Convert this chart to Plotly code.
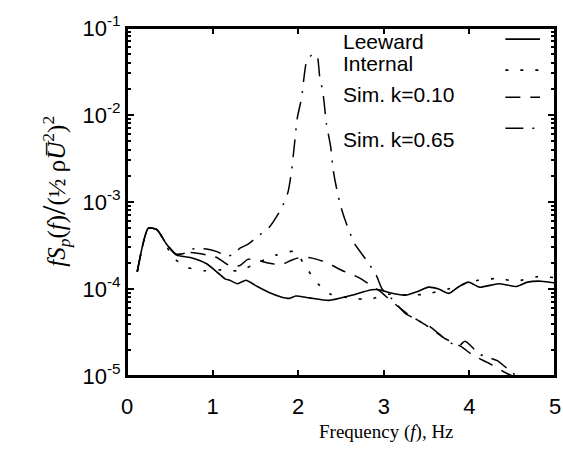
import plotly.graph_objects as go

# ---------------- data ----------------
leeward_f = [0.12, 0.25, 0.35, 0.46, 0.58, 0.74, 0.93, 1.08, 1.15, 1.20, 1.29, 1.39, 1.50,
             1.66, 1.80, 1.90, 1.97, 2.13, 2.36, 2.59, 2.86, 2.95, 3.06, 3.25, 3.41, 3.52,
             3.64, 3.76, 3.88, 3.99, 4.12, 4.34, 4.55, 4.68, 4.84, 5.00]
leeward_s = [1.58e-4, 5.0e-4, 4.8e-4, 3.3e-4, 2.45e-4, 2.3e-4, 1.95e-4, 1.48e-4, 1.30e-4,
             1.26e-4, 1.15e-4, 1.26e-4, 1.10e-4, 9.1e-5, 8.1e-5, 7.8e-5, 8.3e-5, 7.9e-5,
             7.4e-5, 8.3e-5, 9.8e-5, 9.8e-5, 9.1e-5, 8.5e-5, 9.5e-5, 1.05e-4, 1.0e-4,
             8.9e-5, 1.07e-4, 1.2e-4, 1.05e-4, 1.15e-4, 1.07e-4, 1.2e-4, 1.23e-4, 1.17e-4]

internal_f = [0.12, 0.25, 0.35, 0.46, 0.52, 0.70, 0.90, 1.10, 1.31, 1.50, 1.74, 1.96, 2.09,
              2.23, 2.38, 2.60, 2.83, 3.05, 3.27, 3.48, 3.75, 4.10, 4.34, 4.55, 4.78, 5.00]
internal_s = [1.58e-4, 5.0e-4, 4.8e-4, 3.2e-4, 2.4e-4, 1.78e-4, 1.62e-4, 1.66e-4, 1.62e-4,
              1.95e-4, 2.45e-4, 2.7e-4, 1.78e-4, 1.15e-4, 8.7e-5, 7.9e-5, 7.6e-5, 8.7e-5,
              8.5e-5, 8.7e-5, 1.0e-4, 1.26e-4, 1.32e-4, 1.23e-4, 1.38e-4, 1.35e-4]

sim010_f = [0.12, 0.25, 0.35, 0.46, 0.58, 0.72, 0.95, 1.05, 1.13, 1.22, 1.32, 1.41, 1.50,
            1.60, 1.70, 1.80, 1.92, 2.02, 2.12, 2.22, 2.31, 2.40, 2.52, 2.62, 2.71, 2.85,
            2.95, 3.10, 3.30, 3.50, 3.70, 3.90, 4.04, 4.24, 4.40, 4.50]
sim010_s = [1.58e-4, 5.0e-4, 4.8e-4, 3.3e-4, 2.5e-4, 2.63e-4, 2.45e-4, 2.3e-4, 2.04e-4,
            1.82e-4, 1.86e-4, 2.19e-4, 2.19e-4, 2.04e-4, 1.95e-4, 1.9e-4, 2.14e-4, 2.3e-4,
            2.3e-4, 2.19e-4, 2.04e-4, 1.86e-4, 1.62e-4, 1.48e-4, 1.35e-4, 1.1e-4, 9.5e-5,
            7.1e-5, 5.0e-5, 3.8e-5, 2.75e-5, 2.19e-5, 1.74e-5, 1.38e-5, 1.12e-5, 1.0e-5]

sim065_f = [0.12, 0.25, 0.35, 0.46, 0.58, 0.70, 0.76, 0.93, 1.05, 1.16, 1.25, 1.32, 1.42,
            1.51, 1.66, 1.80, 1.88, 1.92, 1.955, 1.99, 2.04, 2.07, 2.10, 2.17, 2.22, 2.25,
            2.29, 2.33, 2.38, 2.41, 2.45, 2.50, 2.57, 2.66, 2.79, 2.91, 2.98, 3.10, 3.25,
            3.40, 3.55, 3.75, 3.87, 3.95, 4.12, 4.32, 4.45, 4.55]
sim065_s = [1.58e-4, 5.0e-4, 4.8e-4, 3.3e-4, 2.5e-4, 2.63e-4, 2.88e-4, 2.88e-4, 2.69e-4,
            2.4e-4, 2.5e-4, 2.95e-4, 3.3e-4, 3.9e-4, 5.1e-4, 8.3e-4, 1.29e-3, 2.19e-3,
            4.47e-3, 9.3e-3, 1.58e-2, 2.82e-2, 4.17e-2, 5.0e-2, 4.8e-2, 2.82e-2, 1.78e-2,
            7.9e-3, 4.27e-3, 2.29e-3, 1.41e-3, 8.7e-4, 5.4e-4, 3.3e-4, 2.19e-4, 1.45e-4,
            1.0e-4, 7.6e-5, 5.25e-5, 4.37e-5, 3.63e-5, 2.51e-5, 2.19e-5, 2.51e-5, 1.78e-5,
            1.51e-5, 1.2e-5, 1.0e-5]

series_names = ["Leeward", "Internal", "Sim. k=0.10", "Sim. k=0.65"]
x_ticks = [0, 1, 2, 3, 4, 5]
y_ticks = [1e-5, 1e-4, 1e-3, 1e-2, 1e-1]
y_ticktext = ["10<sup>-5</sup>", "10<sup>-4</sup>", "10<sup>-3</sup>",
              "10<sup>-2</sup>", "10<sup>-1</sup>"]

# ---------------- figure ----------------
dashes = ["solid", "3px,12px", "15px,10px", "18px,9px,2px,9px"]
widths = [1.6, 1.6, 1.5, 1.5]
xs = [leeward_f, internal_f, sim010_f, sim065_f]
ys = [leeward_s, internal_s, sim010_s, sim065_s]

fig = go.Figure()
for name, x, y, d, w in zip(series_names, xs, ys, dashes, widths):
    fig.add_trace(go.Scatter(x=x, y=y, mode="lines", name=name,
                             line=dict(color="black", width=w, dash=d, shape="spline",
                                       smoothing=0.6),
                             showlegend=False, hoverinfo="skip"))

minor_vals = [m * 10.0 ** e for e in range(-5, -1) for m in range(2, 10)]

fig.update_layout(
    width=563, height=453,
    margin=dict(l=127, r=8, t=28, b=77, autoexpand=False),
    paper_bgcolor="white", plot_bgcolor="white",
    font=dict(family="Liberation Sans, Arial, sans-serif", color="black"),
    xaxis=dict(range=[0, 5], tickvals=x_ticks, ticktext=[str(v) for v in x_ticks],
               ticks="inside", ticklen=6, tickwidth=1.5, tickcolor="black",
               showline=True, linecolor="black", linewidth=2, mirror="ticks",
               showgrid=False, zeroline=False, tickfont=dict(size=22),
               ticklabelstandoff=10, automargin=False),
    yaxis=dict(type="log", range=[-5, -1], tickvals=y_ticks, ticktext=y_ticktext,
               ticks="inside", ticklen=7, tickwidth=1.5, tickcolor="black",
               showline=True, linecolor="black", linewidth=2, mirror="ticks",
               showgrid=False, zeroline=False, tickfont=dict(size=22),
               automargin=False,
               minor=dict(tickvals=minor_vals, ticks="inside", ticklen=4,
                          tickcolor="black", showgrid=False)),
)

# plot frame drawn as four edge lines
frame_edges = [(0, 0, 1, 0), (1, 0, 1, 1), (1, 1, 0, 1), (0, 1, 0, 0)]
for x0, y0, x1, y1 in frame_edges:
    fig.add_shape(type="line", xref="paper", yref="paper", x0=x0, y0=y0, x1=x1, y1=y1,
                  line=dict(color="black", width=2), layer="above")

# axis titles
fig.add_annotation(xref="paper", yref="paper", x=0.607, y=-0.16,
                   xanchor="center", yanchor="middle",
                   text="Frequency (<i>f</i>), Hz", showarrow=False,
                   font=dict(family="Liberation Serif, Times New Roman, serif", size=19))
fig.add_annotation(xref="paper", yref="paper", x=-0.17, y=0.53, textangle=-90,
                   xanchor="center", yanchor="middle",
                   text="<i>fS<sub>p</sub></i>(<i>f</i>)<span style='font-size:34px'>/</span>"
                        "(½ ρ<i>U̅</i><sup>2</sup>)<sup>2</sup>",
                   showarrow=False,
                   font=dict(family="Liberation Serif, Times New Roman, serif", size=25))

# legend (text left, line sample right, as in the reference)
leg_text_y = [0.961, 0.899, 0.810, 0.681]
leg_line_y = [0.968, 0.879, 0.801, 0.712]
for name, ty, ly, d, w in zip(series_names, leg_text_y, leg_line_y, dashes, widths):
    fig.add_annotation(xref="paper", yref="paper", x=0.499, y=ty, xanchor="left",
                       yanchor="middle", text=name, showarrow=False,
                       font=dict(size=21))
    fig.add_shape(type="line", xref="paper", yref="paper", x0=0.884, x1=0.965,
                  y0=ly, y1=ly, line=dict(color="black", width=w, dash=d))

fig.write_html("out.html", config={"displayModeBar": False},
               post_script="document.body.style.margin='0';"
                           "document.body.style.overflow='hidden';")
